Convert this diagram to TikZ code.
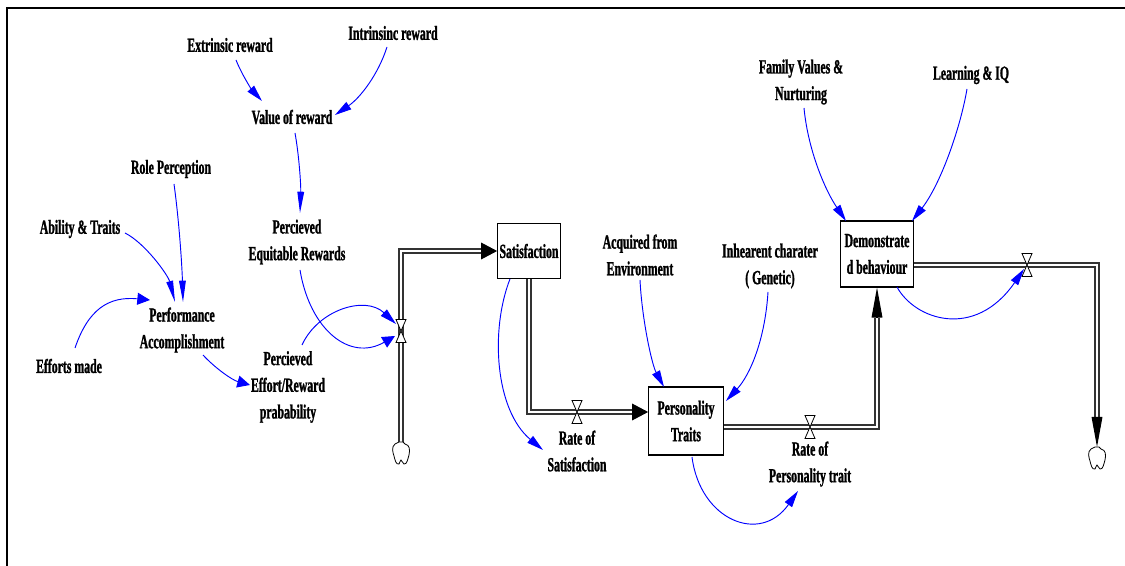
\documentclass[tikz,border=0pt]{standalone}
\usepackage{fontspec}
\newfontfamily\lblfont{Liberation Serif}[FakeStretch=0.59, FakeBold=1.2]
\usetikzlibrary{arrows.meta,calc}

\begin{document}
\begin{tikzpicture}[x=0.75pt, y=-0.75pt,
    lbl/.style={font=\lblfont\bfseries\fontsize{15}{20}\selectfont, align=center, inner sep=1pt},
    stock/.style={lbl, draw, line width=0.8pt, inner sep=0pt},
    link/.style={blue, line width=0.7pt},
    lh/.style={-{Triangle[length=9.5pt,width=9pt]}},
    lv/.style={-{Triangle[length=16pt,width=5pt]}},
    ld/.style={-{Triangle[length=12.5pt,width=6.5pt]}},
    pipe/.style={draw=black!80, line width=0.8pt, double=white, double distance=2.2pt},
    hhead/.style={-{Triangle[length=12pt,width=12.5pt]}, line width=0.8pt},
    vhead/.style={-{Triangle[length=22.5pt,width=8pt]}, line width=0.8pt},
    valve/.pic={\draw[fill=white, line width=0.6pt] (-5,-11.5) -- (5,-11.5) -- (-5,11.5) -- (5,11.5) -- cycle;},
    cloud/.pic={\draw[fill=white, line width=0.6pt] (-2,-11) -- (-6,-9) .. controls (-10,-6) and (-8,0) .. (-7,3) .. controls (-6,7) and (-5,12) .. (-2,11) .. controls (-1,10) and (-1,7) .. (0,7) .. controls (1,7) and (1,10) .. (3,11) .. controls (6,12) and (7,5) .. (8,2) .. controls (9,-3) and (9,-8) .. (4,-9) -- (2,-11) -- cycle;}]
    \useasboundingbox (0,0) rectangle (1125,566);
    \draw[line width=1.7pt] (7,566) -- (7,8) -- (1125,8);

    \node[lbl] (ext) at (230,45) {Extrinsic reward};
    \node[lbl] (intr) at (393,33) {Intrinsinc reward};
    \node[lbl] (val) at (292,117) {Value of reward};
    \node[lbl] (role) at (171,169) {Role Perception};
    \node[lbl] (abil) at (80,229) {Ability \& Traits};
    \node[lbl] (perq) at (297,242) {Percieved\\Equitable Rewards};
    \node[lbl] (perf) at (182,330) {Performance\\Accomplishment};
    \node[lbl] (eff) at (69,366) {Efforts made};
    \node[lbl] (pera) at (288,387) {Percieved\\Effort/Reward\\prabability};
    \node[stock, minimum width=47pt, minimum height=41pt] (sat) at (529,251) {Satisfaction};
    \node[lbl] (rsat) at (577,451) {Rate of\\Satisfaction};
    \node[lbl] (acq) at (640,255) {Acquired from\\Environment};
    \node[lbl] (inh) at (770,266) {Inhearent charater\\( Genetic)};
    \node[stock, minimum width=56pt, minimum height=51pt] (pers) at (686,421) {Personality\\Traits};
    \node[lbl] (rpers) at (810,464) {Rate of\\Personality trait};
    \node[lbl] (fam) at (801,82) {Family Values \&\\Nurturing};
    \node[lbl] (learn) at (971,75) {Learning \& IQ};
    \node[stock, minimum width=55pt, minimum height=49.5pt] (dem) at (877,254) {Demonstrate\\d behaviour};

    \coordinate (c1) at (401,453);
    \coordinate (c2) at (1097,458);
    \coordinate (v1) at (401,331);
    \coordinate (v2) at (577,412);
    \coordinate (v3) at (810,427);
    \coordinate (v4) at (1027,265);

    \draw[pipe] ($(c1)+(0,-11)$) |- ($(sat.west)+(-16,0)$);
    \draw[hhead] ($(sat.west)+(-16,0)$) -- (sat.west);
    \draw[pipe] (sat.south) |- ($(pers.west)+(-16,-9)$);
    \draw[hhead] ($(pers.west)+(-16,-9)$) -- ($(pers.west)+(0,-9)$);
    \draw[pipe] ($(pers.east)+(0,6)$) -| ($(dem.south)+(0,30)$);
    \draw[vhead] ($(dem.south)+(0,30)$) -- (dem.south);
    \draw[pipe] ($(dem.east)+(0,11)$) -| ($(c2)+(0,-41)$);
    \draw[vhead] ($(c2)+(0,-41)$) -- ($(c2)+(0,-11)$);
    \pic at (c1) {cloud};
    \pic at (c2) {cloud};
    \pic at (v1) {valve};
    \pic at (v2) {valve};
    \pic at (v3) {valve};
    \pic at (v4) {valve};

    \draw[link, ld] ($(ext)+(6,15)$) .. controls (242,75) and (252,90) .. ($(val)+(-30,-16)$);
    \draw[link, ld] ($(intr)+(-6,14)$) .. controls (378,75) and (360,98) .. ($(val)+(43,-2)$);
    \draw[link, lv] ($(val)+(3,16)$) .. controls (299,155) and (301,185) .. ($(perq)+(3,-29)$);
    \draw[link, lv] ($(role)+(3,15)$) .. controls (179,220) and (182,265) .. ($(perf)+(1,-28)$);
    \draw[link, lv] ($(abil)+(45,4)$) .. controls (145,243) and (168,275) .. ($(perf)+(-7,-28)$);
    \draw[link, lh] ($(eff)+(6,-18)$) .. controls (88,310) and (108,296) .. ($(perf)+(-32,-30)$);
    \draw[link, lh] ($(perf)+(21,25)$) .. controls (215,368) and (232,380) .. ($(pera)+(-38,-2)$);
    \draw[link, lh] ($(perq)+(3,28)$) .. controls (310,330) and (350,362) .. ($(v1)+(-6,5)$);
    \draw[link, ld] ($(pera)+(14,-42)$) .. controls (318,310) and (365,295) .. ($(v1)+(-5,-7)$);
    \draw[link, ld] ($(sat)+(-19,28)$) .. controls (490,330) and (495,410) .. ($(rsat)+(-34,-1)$);
    \draw[link, ld] ($(acq)+(0,25)$) .. controls (642,320) and (652,365) .. ($(pers)+(-22,-34)$);
    \draw[link, ld] ($(inh)+(-2,26)$) .. controls (765,340) and (750,375) .. ($(pers)+(40,-20)$);
    \draw[link, ld] ($(pers)+(6,36)$) .. controls (700,520) and (760,545) .. ($(rpers)+(-12,27)$);
    \draw[link, ld] ($(fam)+(3,26)$) .. controls (808,150) and (825,190) .. ($(dem)+(-31,-33)$);
    \draw[link, ld] ($(learn)+(-4,14)$) .. controls (960,130) and (940,185) .. ($(dem)+(35,-33)$);
    \draw[link, ld] ($(dem)+(20,33)$) .. controls (915,320) and (975,340) .. ($(v4)+(-3,4)$);
\end{tikzpicture}
\end{document}
